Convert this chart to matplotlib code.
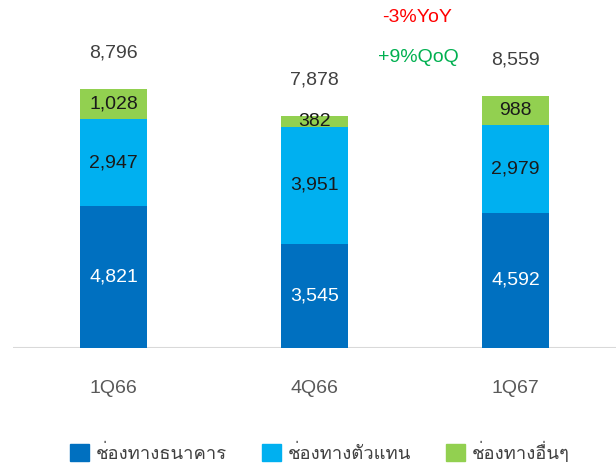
import matplotlib
matplotlib.use("Agg")
import matplotlib.pyplot as plt
from matplotlib import font_manager
from matplotlib.patches import Patch

categories = ["1Q66", "4Q66", "1Q67"]
bank = [4821, 3545, 4592]
agent = [2947, 3951, 2979]
other = [1028, 382, 988]
totals = [8796, 7878, 8559]
series_names = ["ช่องทางธนาคาร", "ช่องทางตัวแทน", "ช่องทางอื่นๆ"]
yoy_text = "-3%YoY"
qoq_text = "+9%QoQ"

# find a font with Thai glyphs
thai_font = None
try:
    from fontTools.ttLib import TTFont
    for f in font_manager.fontManager.ttflist:
        try:
            tt = TTFont(f.fname, fontNumber=0, lazy=True)
            cmap = tt.getBestCmap()
            if cmap and 0x0E0A in cmap:
                thai_font = f.name
                break
        except Exception:
            pass
except Exception:
    pass
fams = ["Liberation Sans", "DejaVu Sans"]
if thai_font:
    fams = ["Liberation Sans", thai_font, "DejaVu Sans"]
plt.rcParams["font.family"] = fams

W, H = 616, 465
fig = plt.figure(figsize=(W / 100, H / 100), dpi=100)
ax = fig.add_axes([13 / W, (H - 348) / H, (W - 13) / W, 348 / H])
scale = 0.02945
ax.set_xlim(-0.5, 2.5)
ax.set_ylim(0, 348 / scale)

c_bank = "#0070C0"
c_agent = "#00B0F0"
c_other = "#92D050"
x = list(range(len(categories)))
w = 0.333
ax.bar(x, bank, w, color=c_bank)
ax.bar(x, agent, w, bottom=bank, color=c_agent)
bot3 = [a + b for a, b in zip(bank, agent)]
ax.bar(x, other, w, bottom=bot3, color=c_other)

fs = 14
for i in x:
    ax.text(i, bank[i] / 2, f"{bank[i]:,}", ha="center", va="center", color="white", fontsize=fs)
    ax.text(i, bank[i] + agent[i] / 2, f"{agent[i]:,}", ha="center", va="center", color="#1a1a1a", fontsize=fs)
    ax.text(i, bot3[i] + other[i] / 2, f"{other[i]:,}", ha="center", va="center", color="#1a1a1a", fontsize=fs)
    ax.annotate(f"{totals[i]:,}", (i, totals[i]), xytext=(0, 26), textcoords="offset points",
                ha="center", va="center", color="#404040", fontsize=fs)

for s in ax.spines.values():
    s.set_visible(False)
ax.axhline(0, color="#d9d9d9", lw=1.5, zorder=0)
ax.set_yticks([])
ax.set_xticks(x)
ax.set_xticklabels(categories, color="#595959", fontsize=fs)
ax.tick_params(axis="x", length=0, pad=23)

fig.text(417 / W, 1 - 18 / H, yoy_text, color="#FF0000", fontsize=fs, ha="center", va="center")
fig.text(418 / W, 1 - 57 / H, qoq_text, color="#00B050", fontsize=fs, ha="center", va="center")

handles = [Patch(color=c_bank), Patch(color=c_agent), Patch(color=c_other)]
fig.legend(handles, series_names, loc="center", bbox_to_anchor=(320 / W, 1 - 452 / H), ncol=3,
           frameon=False, fontsize=13.3, handlelength=1.0, handleheight=1.0, handletextpad=0.38,
           columnspacing=1.9, labelcolor="#404040", borderpad=0)

fig.savefig("out.png", dpi=100)
